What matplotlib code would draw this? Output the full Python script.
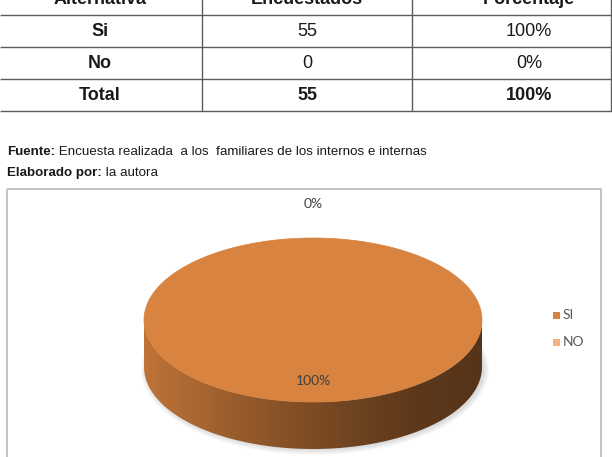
import matplotlib
matplotlib.use("Agg")
import matplotlib.pyplot as plt
import numpy as np
from matplotlib.patches import Polygon, Rectangle, Ellipse
from matplotlib.colors import to_rgb

plt.rcParams['font.family'] = ['Liberation Sans', 'DejaVu Sans']

# table data
headers = ["Alternativa", "Encuestados", "Porcentaje"]
alternativas = ["Si", "No", "Total"]
encuestados = [55, 0, 55]
porcentajes = ["100%", "0%", "100%"]

# pie data
pie_labels = ["SI", "NO"]
pie_values = [55, 0]
pie_colors = ["#D8833F", "#F4B183"]

fuente = "Encuesta realizada  a los  familiares de los internos e internas"
elaborado = "la autora"

W, H = 612, 457
fig = plt.figure(figsize=(W / 100, H / 100), dpi=100)
ax = fig.add_axes([0, 0, 1, 1])
ax.axis('off')

# ---- table ----
row_lines = [15, 47, 79, 111]
col_lines = [202, 412, 611]
col_x = [100, 307, 529]
row_h = 32
ax.hlines(row_lines, 0, 612, color="#5c5c5c", lw=1.0)
ax.vlines(col_lines, -20, row_lines[-1], color="#5c5c5c", lw=1.0)

tcol = "#1a1a1a"
for j, h in enumerate(headers):
    ax.text(col_x[j], row_lines[0] - row_h / 2 + 1, h, ha='center', va='center',
            fontsize=13, fontweight='bold', color=tcol)
for i in range(len(alternativas)):
    yc = row_lines[i] + row_h / 2
    bold_row = alternativas[i] == "Total"
    ax.text(col_x[0], yc, alternativas[i], ha='center', va='center',
            fontsize=13, fontweight='bold', color=tcol)
    ax.text(col_x[1], yc, str(encuestados[i]), ha='center', va='center',
            fontsize=13, fontweight='bold' if bold_row else 'normal', color=tcol)
    ax.text(col_x[2], yc, porcentajes[i], ha='center', va='center',
            fontsize=13, fontweight='bold' if bold_row else 'normal', color=tcol)

# ---- source lines ----
t1 = ax.text(7, 152, "Fuente:", fontsize=9.6, fontweight='bold', va='center', color=tcol)
ax.annotate(" " + fuente, xy=(1, 0), xycoords=t1, va='bottom', ha='left',
            fontsize=9.6, color=tcol)
t2 = ax.text(7, 173, "Elaborado por:", fontsize=9.6, fontweight='bold', va='center', color=tcol)
ax.annotate(" " + elaborado, xy=(1, 0), xycoords=t2, va='bottom', ha='left',
            fontsize=9.6, color=tcol)

# ---- chart box ----
ax.add_patch(Rectangle((7, 189), 594, 300, fill=False, ec="#bfbfbf", lw=1.3))

# ---- 3d pie ----
cx, cy, rx, ry, depth = 313, 320, 169, 82, 47

def ell(t, dy=0.0):
    return cx + rx * np.cos(t), cy - ry * np.sin(t) + dy

# soft shadow
for k in range(6):
    ax.add_patch(Ellipse((cx + 2, cy + depth + 2), 2 * rx + 10 - k * 2, 2 * ry + 8 - k * 2,
                         color="#000000", alpha=0.025, lw=0, zorder=1))

fracs = np.array(pie_values, dtype=float) / sum(pie_values)
start = 90.0
angles = []
for f in fracs:
    angles.append((start, start - f * 360))
    start -= f * 360

# side walls (front half only)
for (a1, a2), col in zip(angles, pie_colors):
    if a1 == a2:
        continue
    ts = np.radians(np.linspace(a2, a1, 400))
    front = np.sin(ts) <= 0
    if not front.any():
        continue
    tt = ts[front]
    tt = tt[np.argsort(np.cos(tt))[::-1]]
    xs, ys = ell(tt)
    xb, yb = ell(tt, depth)
    poly = np.column_stack([np.r_[xs, xb[::-1]], np.r_[ys, yb[::-1]]])
    patch = Polygon(poly, closed=True, fc='none', ec='none', zorder=2)
    ax.add_patch(patch)
    base = np.array(to_rgb(col))
    g = np.linspace(0, 1, 256)
    fac = np.interp(g, [0, 0.25, 0.55, 0.8, 1], [0.88, 0.72, 0.55, 0.43, 0.40])
    img = (base[None, :] * fac[:, None])[None, :, :]
    im = ax.imshow(img, extent=(cx - rx, cx + rx, cy + ry + depth, cy - 10),
                   aspect='auto', zorder=2, interpolation='bilinear')
    im.set_clip_path(patch)

# top faces
for (a1, a2), col in zip(angles, pie_colors):
    if a1 == a2:
        continue
    ts = np.radians(np.linspace(a1, a2, 400))
    xs, ys = ell(ts)
    if abs(a1 - a2) >= 359.999:
        poly = np.column_stack([xs, ys])
    else:
        poly = np.column_stack([np.r_[cx, xs], np.r_[cy, ys]])
    ax.add_patch(Polygon(poly, closed=True, fc=col, ec=col, lw=0.5, zorder=3))

# data labels
label_dist = [0.74, 1.41]
for (a1, a2), f, d in zip(angles, fracs, label_dist):
    mid = np.radians((a1 + a2) / 2)
    lx = cx + d * rx * np.cos(mid)
    ly = cy - d * ry * np.sin(mid)
    ax.text(lx, ly, f"{f * 100:.0f}%", ha='center', va='center', fontsize=10,
            family=['Lato', 'DejaVu Sans'], color="#404040", zorder=4)

# legend
for i, (lab, col) in enumerate(zip(pie_labels, pie_colors)):
    ly = 315 + i * 27
    ax.add_patch(Rectangle((553, ly - 3.5), 7, 7, fc=col, ec='none', zorder=4))
    ax.text(563, ly, lab, ha='left', va='center', fontsize=10,
            family=['Lato', 'DejaVu Sans'], color="#595959")

ax.set_xlim(0, W)
ax.set_ylim(H, 0)
fig.savefig("out.png", dpi=100)
